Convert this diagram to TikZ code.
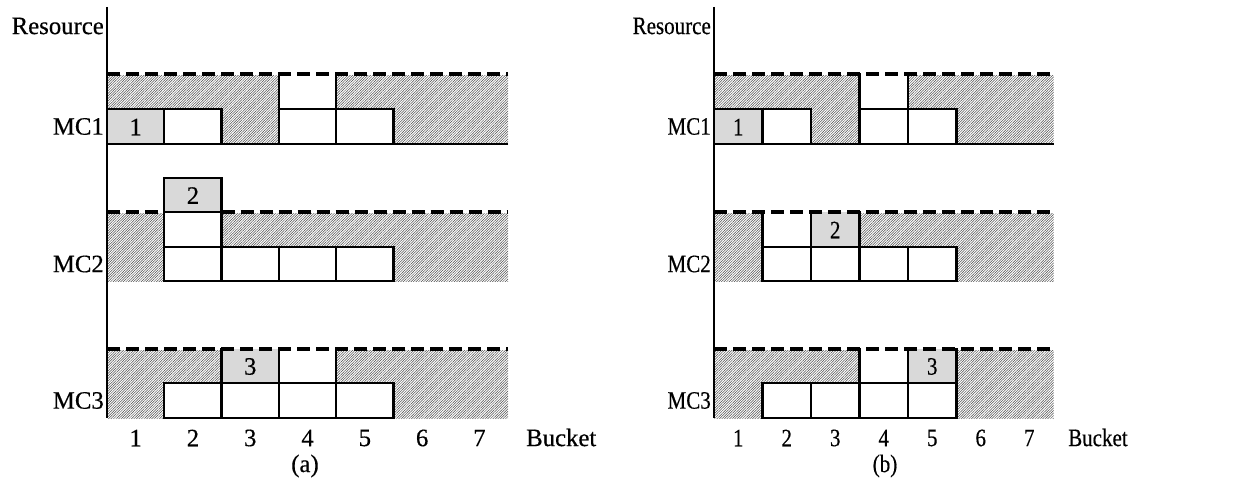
\documentclass[tikz,border=0pt]{standalone}
\usepackage{fontspec}
\setmainfont{Liberation Serif}
\newfontfamily\widefont[FakeStretch=0.99,FakeBold=0.4]{Liberation Serif}
\newfontfamily\narrowfont[FakeStretch=0.84,FakeBold=0.4]{Liberation Serif}
\usetikzlibrary{patterns.meta}
\tikzset{
  hatch/.style={pattern={Lines[angle=45,distance=1.8pt,line width=0.5pt]},pattern color=black!70},
  cellline/.style={line width=2.3pt,line cap=rect},
  baseline/.style={line width=2.7pt},
  capline/.style={line width=3.5pt,dash pattern=on 13pt off 6pt},
  axisline/.style={line width=2pt},
  jobcell/.style={fill=gray!30},
  freecell/.style={fill=white},
  lbla/.style={font=\widefont\fontsize{25}{28}\selectfont,inner sep=0pt},
  lblb/.style={font=\narrowfont\fontsize{25}{28}\selectfont,inner sep=0pt},
}
\begin{document}
\begin{tikzpicture}[x=1pt,y=-1pt]
\useasboundingbox (0,0) rectangle (1236,484);

% ================= panel (a) =================
\begin{scope}[xshift=107pt,x=57.3pt]
  % MC1 : T=74 M=109 B=144
  \fill[hatch] (0,75.5) rectangle (7,144);
  \fill[jobcell] (0,109) rectangle (1,144);
  \fill[freecell] (1,109) rectangle (2,144);
  \fill[freecell] (3,74) rectangle (4,109);
  \fill[freecell] (3,109) rectangle (5,144);
  \draw[cellline] (0,109) -- (2,109) (1,109) -- (1,144) (2,109) -- (2,144)
                  (3,74) -- (3,144) (4,74) -- (4,144) (3,109) -- (5,109) -- (5,144);
  \draw[baseline] (0,144) -- (7,144);
  \draw[capline] (0,74) -- (7,74);
  % MC2 : T=212 M=247 B=281, job 2 above
  \fill[hatch] (0,213.5) rectangle (7,281);
  \fill[freecell] (1,212) rectangle (2,247);
  \fill[freecell] (1,247) rectangle (5,281);
  \fill[jobcell] (1,178) rectangle (2,212);
  \draw[cellline] (1,178) -- (2,178) (1,178) -- (1,281) (2,178) -- (2,281) (1,212) -- (2,212)
                  (1,247) -- (5,247) (3,247) -- (3,281) (4,247) -- (4,281) (5,247) -- (5,281)
                  (1,281) -- (5,281);
  \draw[capline] (0,212) -- (1,212);
  \draw[capline] (2,212) -- (7,212);
  % MC3 : T=349 M=383 B=418
  \fill[hatch] (0,350.5) rectangle (7,418);
  \fill[freecell] (1,383) rectangle (5,418);
  \fill[jobcell] (2,349) rectangle (3,383);
  \fill[freecell] (3,349) rectangle (4,383);
  \draw[cellline] (1,383) -- (1,418) (1,383) -- (5,383) -- (5,418) (1,418) -- (5,418)
                  (2,349) -- (2,418) (3,349) -- (3,418) (4,349) -- (4,418);
  \draw[capline] (0,349) -- (7,349);
  % axis
  \draw[axisline] (0,7) -- (0,418);
  % texts in cells
  \node[lbla] (aj1) at (0.5,127) {1};
  \node[lbla] (aj2) at (1.5,195.5) {2};
  \node[lbla] (aj3) at (2.5,366.5) {3};
  \foreach \i in {1,...,7} \node[lbla] (ab\i) at (\i-0.5,438) {\i};
\end{scope}
\node[lbla,anchor=east] (ares) at (104,26) {Resource};
\node[lbla,anchor=east] (amc1) at (104,126.5) {MC1};
\node[lbla,anchor=east] (amc2) at (104,264) {MC2};
\node[lbla,anchor=east] (amc3) at (104,400.5) {MC3};
\node[lbla,anchor=west] (abucket) at (526,437.5) {Bucket};
\node[lbla] (acap) at (305,466) {(a)};

% ================= panel (b) =================
\begin{scope}[xshift=714pt,x=48.5pt]
  % MC1
  \fill[hatch] (0,75.5) rectangle (7,144);
  \fill[jobcell] (0,109) rectangle (1,144);
  \fill[freecell] (1,109) rectangle (2,144);
  \fill[freecell] (3,74) rectangle (4,109);
  \fill[freecell] (3,109) rectangle (5,144);
  \draw[cellline] (0,109) -- (2,109) (1,109) -- (1,144) (2,109) -- (2,144)
                  (3,74) -- (3,144) (4,74) -- (4,144) (3,109) -- (5,109) -- (5,144);
  \draw[baseline] (0,144) -- (7,144);
  \draw[capline] (0,74) -- (7,74);
  % MC2
  \fill[hatch] (0,213.5) rectangle (7,281);
  \fill[freecell] (1,212) rectangle (2,247);
  \fill[jobcell] (2,212) rectangle (3,247);
  \fill[freecell] (1,247) rectangle (5,281);
  \draw[cellline] (1,212) -- (1,281) (2,212) -- (2,281) (3,212) -- (3,281)
                  (1,247) -- (5,247) (4,247) -- (4,281) (5,247) -- (5,281)
                  (1,281) -- (5,281);
  \draw[capline] (0,212) -- (7,212);
  % MC3
  \fill[hatch] (0,350.5) rectangle (7,418);
  \fill[freecell] (1,383) rectangle (5,418);
  \fill[freecell] (3,349) rectangle (4,383);
  \fill[jobcell] (4,349) rectangle (5,383);
  \draw[cellline] (1,383) -- (1,418) (2,383) -- (2,418) (3,349) -- (3,418)
                  (4,349) -- (4,418) (5,349) -- (5,418) (1,383) -- (5,383) (1,418) -- (5,418);
  \draw[capline] (0,349) -- (7,349);
  % axis
  \draw[axisline] (0,7) -- (0,418);
  \node[lblb] (bj1) at (0.5,127) {1};
  \node[lblb] (bj2) at (2.5,230) {2};
  \node[lblb] (bj3) at (4.5,366.5) {3};
  \foreach \i in {1,...,7} \node[lblb] (bb\i) at (\i-0.5,438) {\i};
\end{scope}
\node[lblb,anchor=east] (bres) at (711,26) {Resource};
\node[lblb,anchor=east] (bmc1) at (711,126.5) {MC1};
\node[lblb,anchor=east] (bmc2) at (711,264) {MC2};
\node[lblb,anchor=east] (bmc3) at (711,400.5) {MC3};
\node[lblb,anchor=west] (bbucket) at (1068,437.5) {Bucket};
\node[lblb] (bcap) at (885,466) {(b)};
\end{tikzpicture}
\end{document}
